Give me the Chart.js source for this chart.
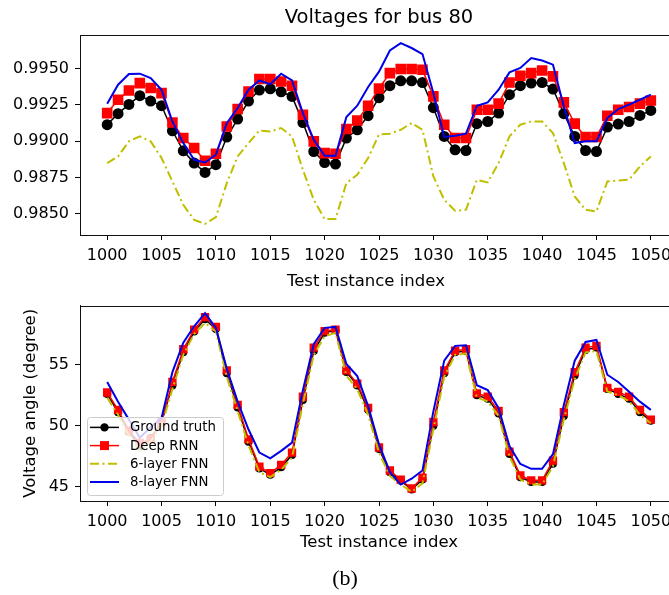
<!DOCTYPE html>
<html lang="en">
<head>
  <meta charset="UTF-8" />
  <title>Voltages for bus 80</title>
  <script src="https://cdn.jsdelivr.net/npm/chart.js"></script>
  <style>
    body {
      margin: 0;
      background: #ffffff;
      width: 669px;
      height: 595px;
      overflow: hidden;
      position: relative;
    }

    .panel {
      position: absolute;
      left: 0;
      width: 700px;
    }

    #magPanel { top: 0; height: 300px; }
    #angPanel { top: 290px; height: 268px; }

    .caption {
      position: absolute;
      left: 0;
      top: 565px;
      width: 690px;
      text-align: center;
      font-family: 'Liberation Serif', 'Times New Roman', serif;
      font-size: 22px;
      color: #000;
    }
  </style>
</head>
<body>

  <div class="panel" id="magPanel"><canvas id="magChart"></canvas></div>
  <div class="panel" id="angPanel"><canvas id="angChart"></canvas></div>
  <div class="caption">(b)</div>

  <script>
    // Test instance indices (x axis)
    const instances = [
      1000, 1001, 1002, 1003, 1004, 1005, 1006, 1007, 1008, 1009,
      1010, 1011, 1012, 1013, 1014, 1015, 1016, 1017, 1018, 1019,
      1020, 1021, 1022, 1023, 1024, 1025, 1026, 1027, 1028, 1029,
      1030, 1031, 1032, 1033, 1034, 1035, 1036, 1037, 1038, 1039,
      1040, 1041, 1042, 1043, 1044, 1045, 1046, 1047, 1048, 1049,
      1050
    ];

    const seriesNames = ['Ground truth', 'Deep RNN', '6-layer FNN', '8-layer FNN'];

    // Voltage magnitude (p.u.)
    const magTruth = [
      0.99114, 0.99190, 0.99254, 0.99314, 0.99277, 0.99245, 0.99072, 0.98934, 0.98849, 0.98785,
      0.98838, 0.99029, 0.99153, 0.99277, 0.99353, 0.99362, 0.99341, 0.99309, 0.99129, 0.98929,
      0.98853, 0.98842, 0.99022, 0.99079, 0.99176, 0.99300, 0.99383, 0.99417, 0.99417, 0.99405,
      0.99231, 0.99033, 0.98941, 0.98936, 0.99121, 0.99136, 0.99194, 0.99321, 0.99383, 0.99401,
      0.99405, 0.99360, 0.99190, 0.99033, 0.98936, 0.98929, 0.99098, 0.99118, 0.99136, 0.99178,
      0.99212
    ];
    const magRnn = [
      0.99194, 0.99286, 0.99350, 0.99401, 0.99367, 0.99332, 0.99129, 0.99022, 0.98953, 0.98865,
      0.98914, 0.99102, 0.99222, 0.99343, 0.99429, 0.99429, 0.99412, 0.99383, 0.99183, 0.98999,
      0.98918, 0.98914, 0.99084, 0.99143, 0.99245, 0.99364, 0.99470, 0.99498, 0.99498, 0.99493,
      0.99309, 0.99114, 0.99022, 0.99022, 0.99217, 0.99217, 0.99259, 0.99405, 0.99452, 0.99470,
      0.99488, 0.99447, 0.99268, 0.99121, 0.99029, 0.99029, 0.99176, 0.99217, 0.99236, 0.99259,
      0.99281
    ];
    const magFnn6 = [
      0.98849, 0.98895, 0.98999, 0.99033, 0.98999, 0.98884, 0.98722, 0.98561, 0.98457, 0.98430,
      0.98476, 0.98711, 0.98895, 0.98987, 0.99074, 0.99067, 0.99091, 0.99033, 0.98803, 0.98596,
      0.98463, 0.98463, 0.98711, 0.98769, 0.98884, 0.99047, 0.99052, 0.99079, 0.99125, 0.99079,
      0.98757, 0.98596, 0.98520, 0.98527, 0.98734, 0.98716, 0.98849, 0.99033, 0.99114, 0.99136,
      0.99136, 0.99056, 0.98849, 0.98619, 0.98527, 0.98515, 0.98722, 0.98729, 0.98734, 0.98826,
      0.98895
    ];
    const magFnn8 = [
      0.99259, 0.99390, 0.99463, 0.99466, 0.99436, 0.99355, 0.99136, 0.98987, 0.98872, 0.98853,
      0.98907, 0.99125, 0.99229, 0.99355, 0.99419, 0.99394, 0.99466, 0.99419, 0.99194, 0.99010,
      0.98900, 0.98900, 0.99167, 0.99245, 0.99374, 0.99480, 0.99626, 0.99677, 0.99643, 0.99601,
      0.99332, 0.99029, 0.99038, 0.99052, 0.99245, 0.99268, 0.99355, 0.99475, 0.99505, 0.99574,
      0.99557, 0.99528, 0.99240, 0.98987, 0.98999, 0.98999, 0.99160, 0.99222, 0.99252, 0.99286,
      0.99321
    ];

    // Voltage angle (degree)
    const angTruth = [
      52.6, 51.1, 49.5, 48.3, 49.0, 50.3, 53.3, 56.0, 57.7, 58.7,
      57.9, 54.3, 51.5, 48.7, 46.5, 46.0, 46.6, 47.6, 52.1, 56.1,
      57.6, 57.8, 54.4, 53.3, 51.3, 48.1, 46.2, 45.5, 44.8, 45.6,
      50.0, 54.3, 56.0, 56.1, 52.5, 52.2, 51.0, 47.7, 45.8, 45.4,
      45.4, 46.9, 50.8, 54.1, 56.2, 56.4, 53.0, 52.6, 52.2, 51.1,
      50.4
    ];
    const angRnn = [
      52.72, 51.30, 49.60, 48.60, 48.90, 50.30, 53.58, 56.25, 57.86, 58.88,
      58.08, 54.52, 51.70, 48.89, 46.66, 46.13, 46.80, 47.81, 52.37, 56.39,
      57.73, 57.86, 54.52, 53.44, 51.46, 48.22, 46.34, 45.59, 44.87, 45.76,
      50.31, 54.52, 56.13, 56.25, 52.64, 52.37, 51.22, 47.89, 45.94, 45.54,
      45.54, 47.15, 51.11, 54.38, 56.39, 56.53, 53.10, 52.77, 52.37, 51.30,
      50.50
    ];
    const angFnn6 = [
      52.3, 50.9, 49.2, 48.0, 48.7, 50.0, 53.0, 55.8, 57.5, 58.4,
      57.7, 54.0, 51.2, 48.4, 46.2, 45.8, 46.4, 47.4, 51.8, 55.8,
      57.3, 57.6, 54.1, 53.0, 50.9, 47.8, 45.9, 45.2, 44.6, 45.3,
      49.7, 54.0, 55.8, 55.9, 52.3, 52.0, 50.8, 47.5, 45.6, 45.2,
      45.2, 46.7, 50.5, 53.8, 56.0, 56.1, 52.8, 52.5, 52.0, 50.9,
      50.2
    ];
    const angFnn8 = [
      53.58, 51.97, 50.50, 49.02, 49.88, 50.63, 54.38, 56.79, 58.13, 59.20,
      58.00, 54.65, 51.97, 49.69, 47.81, 47.33, 47.95, 48.62, 52.91, 56.66,
      58.00, 58.08, 55.05, 54.06, 51.60, 48.49, 46.21, 45.19, 45.67, 46.34,
      51.17, 55.32, 56.53, 56.58, 53.31, 52.91, 51.43, 48.35, 46.88, 46.48,
      46.48, 47.68, 51.70, 55.32, 56.85, 57.01, 54.17, 53.58, 52.77, 51.97,
      51.30
    ];

    const xTicks = [1000, 1005, 1010, 1015, 1020, 1025, 1030, 1035, 1040, 1045, 1050];
    const magTicks = [0.9850, 0.9875, 0.9900, 0.9925, 0.9950];
    const angTicks = [45, 50, 55];

    Chart.defaults.font.family = "'DejaVu Sans', sans-serif";
    Chart.defaults.color = '#000000';

    const toPoints = vals => instances.map((x, i) => ({ x: x, y: vals[i] }));

    // Box around the plotting area (all four spines)
    const frame = {
      id: 'frame',
      afterDatasetsDraw(chart) {
        const { ctx, chartArea: a } = chart;
        ctx.save();
        ctx.strokeStyle = '#111111';
        ctx.lineWidth = 1;
        ctx.strokeRect(Math.round(a.left) + 0.5, Math.round(a.top) + 0.5,
          Math.round(a.right - a.left), Math.round(a.bottom - a.top));
        ctx.restore();
      }
    };

    // Semi-transparent legend box placed inside the lower-left corner of the axes
    const insetLegend = {
      id: 'insetLegend',
      afterDraw(chart, args, opts) {
        if (!opts.display) return;
        const { ctx, chartArea: a } = chart;
        const metas = chart.data.datasets;
        const left = a.left + 7, bottom = a.bottom - 6;
        const w = 136, rowH = 18.2, h = 78;
        const top = bottom - h;
        ctx.save();
        ctx.beginPath();
        ctx.roundRect(left + 0.5, top + 0.5, w, h, 3);
        ctx.fillStyle = 'rgba(255,255,255,0.8)';
        ctx.fill();
        ctx.strokeStyle = '#cccccc';
        ctx.lineWidth = 1;
        ctx.stroke();

        ctx.font = "13.3px 'DejaVu Sans', sans-serif";
        ctx.textBaseline = 'middle';
        metas.forEach((ds, i) => {
          const y = top + 10.4 + i * rowH;
          const x0 = left + 3, x1 = left + 32, xm = (x0 + x1) / 2;
          ctx.save();
          ctx.strokeStyle = ds.borderColor;
          ctx.lineWidth = ds.borderWidth;
          ctx.setLineDash(ds.borderDash || []);
          ctx.beginPath();
          ctx.moveTo(x0, y);
          ctx.lineTo(x1, y);
          ctx.stroke();
          ctx.restore();
          if (ds.legendMarker) {
            ctx.fillStyle = ds.pointBackgroundColor;
            const r = ds.legendMarker;
            ctx.beginPath();
            if (ds.pointStyle === 'rect') ctx.rect(xm - r, y - r, 2 * r, 2 * r);
            else ctx.arc(xm, y, r, 0, Math.PI * 2);
            ctx.fill();
          }
          ctx.fillStyle = '#000000';
          ctx.fillText(seriesNames[i], left + 43, y + 0.5);
        });
        ctx.restore();
      }
    };

    function buildDatasets(truth, rnn, fnn6, fnn8, sizes) {
      return [
        {
          label: seriesNames[0], data: toPoints(truth), order: 4,
          borderColor: '#000000', borderWidth: 1.5,
          pointStyle: 'circle', pointRadius: sizes.dot, pointBorderWidth: 0,
          pointBackgroundColor: '#000000', legendMarker: 4.2
        },
        {
          label: seriesNames[1], data: toPoints(rnn), order: 3,
          borderColor: '#ff0000', borderWidth: 1.5,
          pointStyle: 'rect', pointRadius: sizes.square, pointBorderWidth: 0,
          pointBackgroundColor: '#ff0000', legendMarker: 4.5
        },
        {
          label: seriesNames[2], data: toPoints(fnn6), order: 2,
          borderColor: '#bfbf00', borderWidth: 2, borderDash: [9, 3.5, 2, 3.5],
          pointRadius: 0
        },
        {
          label: seriesNames[3], data: toPoints(fnn8), order: 1,
          borderColor: '#0000e6', borderWidth: 2,
          pointRadius: 0
        }
      ];
    }

    function buildOptions(cfg) {
      return {
        responsive: true,
        maintainAspectRatio: false,
        animation: false,
        events: [],
        layout: { padding: cfg.padding },
        plugins: {
          legend: { display: false },
          tooltip: { enabled: false },
          title: cfg.title ? {
            display: true,
            text: cfg.title,
            fullSize: false,
            color: '#000000',
            font: { size: 19.5, weight: 'normal' },
            padding: { top: 6, bottom: 6 }
          } : { display: false },
          insetLegend: { display: cfg.legend }
        },
        scales: {
          x: {
            type: 'linear',
            min: 997.5,
            max: 1052.5,
            afterBuildTicks: s => { s.ticks = xTicks.map(v => ({ value: v })); },
            afterFit: s => { s.height = cfg.xHeight; },
            ticks: {
              font: { size: 16 },
              padding: 6,
              maxRotation: 0,
              autoSkip: false,
              callback: v => String(v)
            },
            grid: { drawOnChartArea: false, drawTicks: true, tickLength: 5, color: '#000000' },
            border: { display: true, color: '#111111' },
            title: {
              display: true,
              text: cfg.xTitle,
              font: { size: 16.5 },
              padding: { top: 0, bottom: cfg.xTitlePad }
            }
          },
          y: {
            type: 'linear',
            min: cfg.yMin,
            max: cfg.yMax,
            afterBuildTicks: s => { s.ticks = cfg.yTicks.map(v => ({ value: v })); },
            afterFit: s => { s.width = 80; },
            ticks: {
              font: { size: 16 },
              padding: 6,
              callback: cfg.yFormat
            },
            grid: { drawOnChartArea: false, drawTicks: true, tickLength: 5, color: '#000000' },
            border: { display: true, color: '#111111' },
            title: cfg.yTitle ? {
              display: true,
              text: cfg.yTitle,
              font: { size: 16.5 },
              padding: { top: 21, bottom: 0 }
            } : { display: false }
          }
        }
      };
    }

    // Upper panel: voltage magnitude
    new Chart(document.getElementById('magChart'), {
      type: 'line',
      data: { datasets: buildDatasets(magTruth, magRnn, magFnn6, magFnn8, { dot: 5.5, square: 7.5 }) },
      options: buildOptions({
        title: 'Voltages for bus 80',
        padding: { left: 0, right: 22, top: 0, bottom: 5 },
        xHeight: 60,
        xTitle: 'Test instance index     ',
        xTitlePad: 3.4,
        yMin: 0.98353,
        yMax: 0.99730,
        yTicks: magTicks,
        yFormat: v => Number(v).toFixed(4),
        legend: false
      }),
      plugins: [frame, insetLegend]
    });

    // Lower panel: voltage angle
    new Chart(document.getElementById('angChart'), {
      type: 'line',
      data: { datasets: buildDatasets(angTruth, angRnn, angFnn6, angFnn8, { dot: 4, square: 5.9 }) },
      options: buildOptions({
        title: null,
        padding: { left: 0, right: 22, top: 12.3, bottom: 2 },
        xHeight: 55,
        xTitle: 'Test instance index',
        xTitlePad: 3.4,
        yMin: 43.85,
        yMax: 59.82,
        yTicks: angTicks,
        yFormat: v => String(v),
        yTitle: 'Voltage angle (degree)',
        legend: true
      }),
      plugins: [frame, insetLegend]
    });
  </script>

</body>
</html>
